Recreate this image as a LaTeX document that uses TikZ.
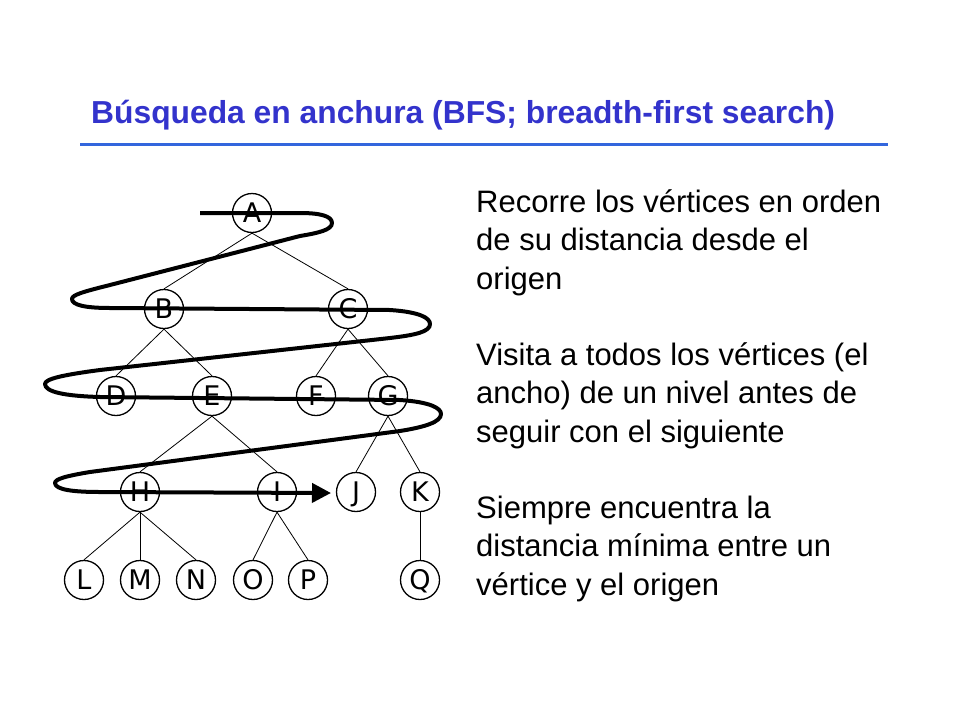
\documentclass[tikz,border=0pt]{standalone}
\usepackage{fontspec}
\setmainfont{Liberation Sans}
\newfontfamily\nodefont{DejaVu Sans}
\usetikzlibrary{arrows.meta}
\definecolor{titleblue}{RGB}{51,51,204}
\definecolor{ruleblue}{RGB}{51,102,221}
\begin{document}
\begin{tikzpicture}[x=1pt,y=-1pt,
  vtx/.style={circle,draw,line width=1.3pt,minimum size=39pt,inner sep=0pt,
    text height=19.5pt,text depth=0pt,
    font=\nodefont\fontsize{27}{27}\selectfont},
  edge/.style={line width=0.8pt},
  bfs/.style={line width=4pt,line join=round},
  para/.style={anchor=base west,align=left,inner sep=0pt,
    font=\fontsize{31}{38.5}\selectfont}]
\useasboundingbox[fill=white] (0,0) rectangle (960,720);
% title
\node[anchor=base west,inner sep=0pt,text=titleblue,
  font=\bfseries\fontsize{31.8}{34}\selectfont] (title) at (91,123)
  {Búsqueda en anchura (BFS; breadth-first search)};
\draw[ruleblue,line width=3pt] (80,144) -- (888,144);
% nodes
\node[vtx] (A) at (252,213) {A};
\node[vtx] (B) at (164,309) {B};
\node[vtx] (C) at (348,309) {C};
\node[vtx] (D) at (116,396) {D};
\node[vtx] (E) at (212,396) {E};
\node[vtx] (F) at (316,396) {F};
\node[vtx] (G) at (388,396) {G};
\node[vtx] (H) at (140,492) {H};
\node[vtx] (I) at (277,492) {I};
\node[vtx] (J) at (356,492) {J};
\node[vtx] (K) at (420,492) {K};
\node[vtx] (L) at (84,580) {L};
\node[vtx] (M) at (140,580) {M};
\node[vtx] (N) at (196,580) {N};
\node[vtx] (O) at (253,580) {O};
\node[vtx] (P) at (308,580) {P};
\node[vtx] (Q) at (420,580) {Q};
% edges
\foreach \p/\c in {A/B,A/C,B/D,B/E,C/F,C/G,E/H,E/I,G/J,G/K,H/L,H/M,H/N,I/O,I/P,K/Q}
  \draw[edge] (\p.south) -- (\c.north);
% BFS traversal curve
\coordinate (start) at (200,213);
\coordinate (tip) at (331,493);
\draw[bfs,-{Triangle[length=19pt,width=19pt]}] (start) -- (300,213)
  .. controls (320,213) and (332,216) .. (332,223)
  .. controls (332,230) and (318,233) .. (300,236)
  -- (110,285)
  .. controls (82,292) and (72,295) .. (72,299)
  .. controls (72,305) and (85,308) .. (110,308)
  -- (390,310)
  .. controls (420,312) and (430,318) .. (430,324)
  .. controls (430,332) and (415,335) .. (390,338)
  -- (100,370)
  .. controls (62,375) and (45,379) .. (45,384)
  .. controls (45,392) and (65,396) .. (100,397)
  -- (400,400)
  .. controls (430,402) and (441,408) .. (441,414)
  .. controls (441,422) and (425,427) .. (400,431)
  -- (90,472)
  .. controls (66,476) and (55,479) .. (55,483)
  .. controls (55,490) and (75,492) .. (100,492)
  -- (tip);
% text
\node[para] (t1) at (476,289) {Recorre los vértices en orden\\de su distancia desde el\\origen};
\node[para] (t2) at (476,442) {Visita a todos los vértices (el\\ancho) de un nivel antes de\\seguir con el siguiente};
\node[para] (t3) at (476,595) {Siempre encuentra la\\distancia mínima entre un\\vértice y el origen};
\end{tikzpicture}
\end{document}
